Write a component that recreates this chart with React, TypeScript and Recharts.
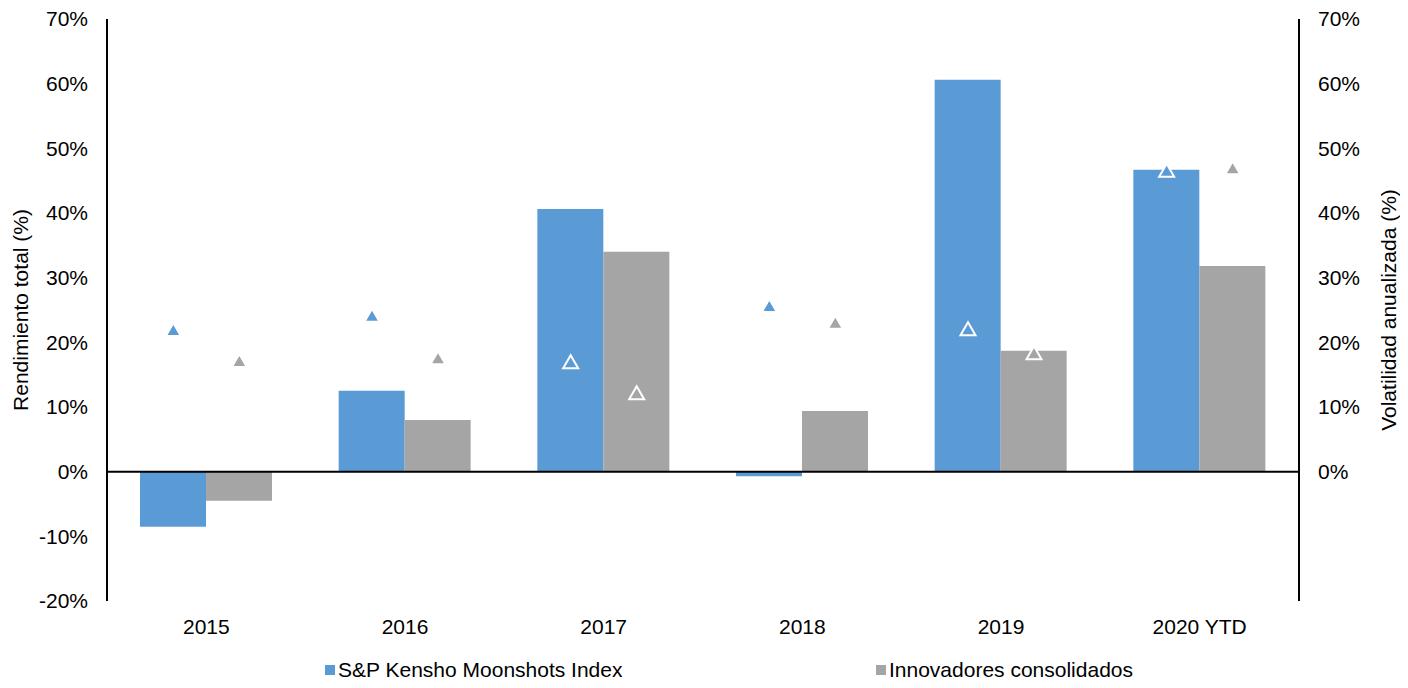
import React from 'react';
import { ComposedChart, Bar, Scatter, XAxis, YAxis, ReferenceLine, Legend } from 'recharts';

const years = ['2015', '2016', '2017', '2018', '2019', '2020 YTD'];
const kenshoReturn = [-8.5, 12.5, 40.6, -0.7, 60.6, 46.7];
const innovReturn = [-4.5, 8.0, 34.0, 9.4, 18.7, 31.8];
const kenshoVol = [22.0, 24.2, 17.0, 25.7, 22.1, 46.6];
const innovVol = [17.2, 17.6, 12.2, 23.1, 18.4, 47.0];
const leftTicks = [-20, -10, 0, 10, 20, 30, 40, 50, 60, 70];
const rightTicks = [0, 10, 20, 30, 40, 50, 60, 70];

const BLUE = '#5B9BD5';
const GRAY = '#A5A5A5';
const FONT = '"Liberation Sans", Arial, sans-serif';
const FS = 21;
const BAR_SIZE = 66;

const data = years.map((y, i) => ({
  year: y,
  kRet: kenshoReturn[i],
  iRet: innovReturn[i],
  kVol: kenshoVol[i],
  iVol: innovVol[i],
}));

const makeTriangle = (offset: number, color: string) => (props: any) => {
  const { cx, cy } = props;
  if (cx == null || cy == null) return null;
  const x = cx + offset;
  const s = 15;
  const h = (s * Math.sqrt(3)) / 2;
  const d = `M${x},${cy - h / 2} L${x + s / 2},${cy + h / 2} L${x - s / 2},${cy + h / 2} Z`;
  return <path d={d} fill={color} stroke="#FFFFFF" strokeWidth={2} />;
};

const LegendContent = () => (
  <div style={{ position: 'relative', width: 1408, height: 24, fontFamily: FONT, fontSize: FS, lineHeight: '24px', color: '#000' }}>
    <div style={{ position: 'absolute', left: 325, top: 0, display: 'flex', alignItems: 'center' }}>
      <span style={{ width: 10, height: 10, background: BLUE, display: 'inline-block', marginRight: 3 }} />
      <span>S&amp;P Kensho Moonshots Index</span>
    </div>
    <div style={{ position: 'absolute', left: 876, top: 0, display: 'flex', alignItems: 'center' }}>
      <span style={{ width: 10, height: 10, background: GRAY, display: 'inline-block', marginRight: 3 }} />
      <span>Innovadores consolidados</span>
    </div>
  </div>
);

const fmt = (v: number) => `${v}%`;

export default function App() {
  return (
    <div style={{ margin: -8, width: 1408, height: 688, background: '#fff', overflow: 'hidden', position: 'relative' }}>
      <ComposedChart
        width={1408}
        height={688}
        data={data}
        margin={{ top: 19, right: 49, left: 47, bottom: 0 }}
        barGap={0}
      >
        <XAxis
          dataKey="year"
          axisLine={false}
          tickLine={false}
          tickSize={0}
          tickMargin={18}
          height={63}
          tick={{ fontSize: FS, fill: '#000', fontFamily: FONT }}
          interval={0}
        />
        <YAxis
          yAxisId="left"
          domain={[-20, 70]}
          ticks={leftTicks}
          tickFormatter={fmt}
          axisLine={{ stroke: '#000', strokeWidth: 2 }}
          tickLine={false}
          tickSize={0}
          tickMargin={19}
          width={60}
          interval={0}
          tick={{ fontSize: FS, fill: '#000', fontFamily: FONT }}
          label={{
            value: 'Rendimiento total (%)',
            angle: -90,
            position: 'insideLeft',
            offset: 0,
            dx: -26,
            style: { textAnchor: 'middle', fontSize: FS, fill: '#000', fontFamily: FONT },
          }}
        />
        <YAxis
          yAxisId="right"
          orientation="right"
          domain={[-20, 70]}
          ticks={rightTicks}
          tickFormatter={fmt}
          axisLine={{ stroke: '#000', strokeWidth: 2 }}
          tickLine={false}
          tickSize={0}
          tickMargin={19}
          width={60}
          interval={0}
          tick={{ fontSize: FS, fill: '#000', fontFamily: FONT }}
          label={{
            value: 'Volatilidad anualizada (%)',
            angle: -90,
            position: 'insideRight',
            offset: 0,
            dx: 30,
            style: { textAnchor: 'middle', fontSize: FS, fill: '#000', fontFamily: FONT },
          }}
        />
        <Bar yAxisId="left" dataKey="kRet" fill={BLUE} barSize={BAR_SIZE} isAnimationActive={false} />
        <Bar yAxisId="left" dataKey="iRet" fill={GRAY} barSize={BAR_SIZE} isAnimationActive={false} />
        <ReferenceLine yAxisId="left" y={0} stroke="#000" strokeWidth={2} />
        <Scatter yAxisId="right" dataKey="kVol" shape={makeTriangle(-BAR_SIZE / 2, BLUE)} isAnimationActive={false} />
        <Scatter yAxisId="right" dataKey="iVol" shape={makeTriangle(BAR_SIZE / 2, GRAY)} isAnimationActive={false} />
        <Legend
          content={<LegendContent />}
          wrapperStyle={{ position: 'absolute', top: 658, left: 0, width: 1408, height: 24 }}
        />
      </ComposedChart>
    </div>
  );
}
